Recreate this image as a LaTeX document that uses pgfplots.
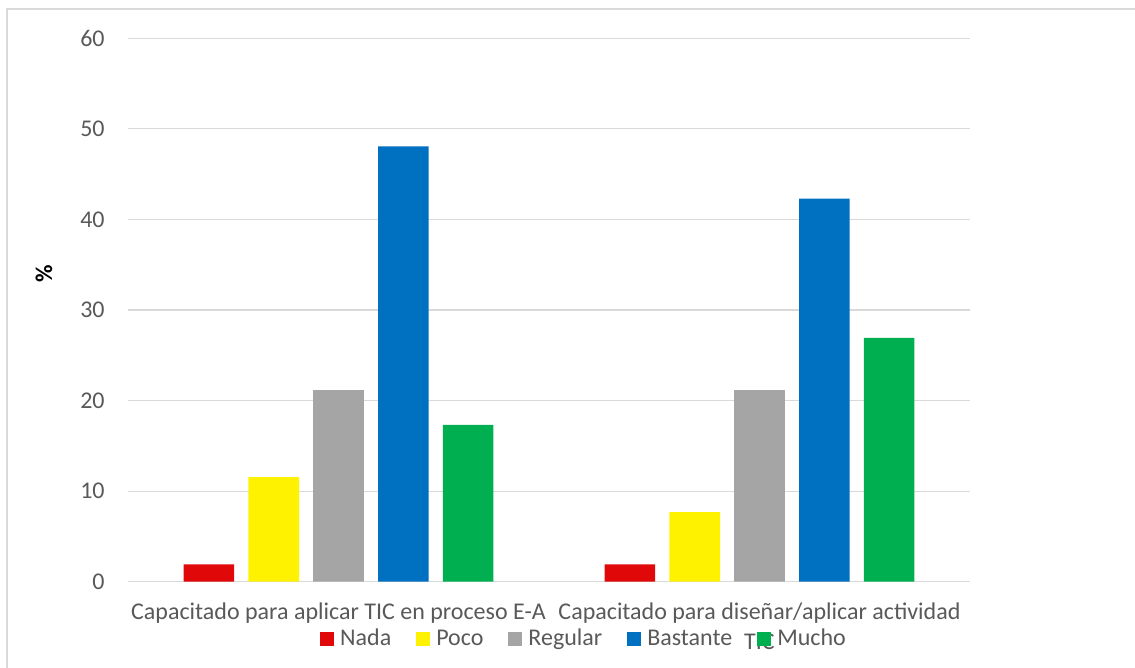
\documentclass[border=0pt]{standalone}
\usepackage{fontspec}
\setmainfont{Carlito}
\usepackage{pgfplots}
\pgfplotsset{compat=1.18}

\definecolor{cNada}{HTML}{E00808}
\definecolor{cPoco}{HTML}{FFF200}
\definecolor{cRegular}{HTML}{A5A5A5}
\definecolor{cBastante}{HTML}{0070C0}
\definecolor{cMucho}{HTML}{00B050}
\definecolor{gridgray}{HTML}{D9D9D9}
\definecolor{framegray}{HTML}{D9D9D9}
\definecolor{labelgray}{HTML}{595959}

\begin{document}
\begin{tikzpicture}
\useasboundingbox (0,0) rectangle (567.5pt,334pt);
% chart area frame (runs off the right and bottom edges)
\begin{scope}
\clip (0,0) rectangle (567.5pt,334pt);
\draw[framegray, line width=0.6pt] (3.5pt,-20pt) rectangle (600pt,329.5pt);
\end{scope}
\begin{axis}[
  at={(64pt,43.15pt)}, anchor=south west,
  scale only axis, width=421pt, height=271.7pt,
  ybar=7.1pt, bar width=25.3pt,
  xmin=-0.5, xmax=1.5, ymin=0, ymax=60,
  xtick={0,1},
  xticklabels={{Capacitado para aplicar TIC en proceso E-A},{Capacitado para diseñar/aplicar actividad\\TIC}},
  ytick={0,10,...,60},
  axis line style={draw=none},
  major tick length=0pt,
  ymajorgrids,
  grid style={gridgray, line width=0.6pt},
  /pgf/number format/assume math mode=true,
  tick label style={font=\fontsize{12}{15}\selectfont, text=labelgray},
  xticklabel style={align=center, anchor=north, inner sep=0pt, yshift=-10.6pt},
  yticklabel style={anchor=east, inner sep=0pt, xshift=-11.5pt},
  ylabel={\textbf{\%}},
  ylabel style={at={(axis description cs:-0.0998,0.567)}, anchor=center, font=\fontsize{12}{15}\selectfont, text=black},
  legend columns=5,
  legend style={
    at={(axis description cs:0.5404,-0.1054)}, anchor=center,
    draw=none, fill=none,
    font=\fontsize{12}{15}\selectfont, text=labelgray,
    nodes={inner sep=0pt, anchor=west},
    /tikz/every odd column/.style={column sep=3pt},
    /tikz/every even column/.style={column sep=12.5pt},
  },
  legend image code/.code={\fill[#1] (0pt,-3.5pt) rectangle (7pt,3.5pt);},
]
\addplot[fill=cNada, draw=none] coordinates {(0,1.92) (1,1.92)};
\addplot[fill=cPoco, draw=none] coordinates {(0,11.54) (1,7.69)};
\addplot[fill=cRegular, draw=none] coordinates {(0,21.15) (1,21.15)};
\addplot[fill=cBastante, draw=none] coordinates {(0,48.08) (1,42.31)};
\addplot[fill=cMucho, draw=none] coordinates {(0,17.31) (1,26.92)};
\legend{Nada,Poco,Regular,Bastante,Mucho}
\end{axis}
\end{tikzpicture}
\end{document}
